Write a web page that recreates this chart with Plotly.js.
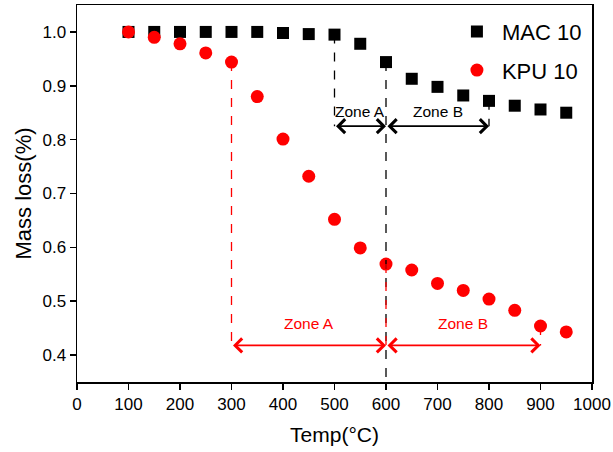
<!DOCTYPE html>
<html>
<head>
<meta charset="utf-8">
<script src="https://cdn.plot.ly/plotly-3.0.1.min.js"></script>
<style>html,body{margin:0;padding:0;background:#fff;}#chart{width:613px;height:452px;}</style>
</head>
<body>
<div id="chart"></div>
<script>
// Data
var temps = [100,150,200,250,300,350,400,450,500,550,600,650,700,750,800,850,900,950];
var mac10 = [1.0,1.0,1.0,1.0,1.0,1.0,0.998,0.996,0.995,0.978,0.944,0.913,0.898,0.882,0.872,0.863,0.856,0.850];
var kpu10 = [1.0,0.990,0.978,0.961,0.944,0.880,0.801,0.732,0.652,0.599,0.569,0.558,0.533,0.520,0.504,0.483,0.454,0.443];
var xTicks = [0,100,200,300,400,500,600,700,800,900,1000];
var yTicks = [0.4,0.5,0.6,0.7,0.8,0.9,1.0];
// Zone boundaries (temperature) and the level of their arrows
var macZones = [500,600,800];
var kpuZones = [300,600,900];
var macArrowLevel = 0.825;
var kpuArrowLevel = 0.418;
var macZoneLabelLevel = 0.853;
var kpuZoneLabelLevel = 0.459;
var zoneNames = ['Zone A','Zone B'];
var yMin = 0.35, yMax = 1.05;

function valAt(series, t){ return series[temps.indexOf(t)]; }

var FONT = 'Arial, "Liberation Sans", sans-serif';

var traces = [
  {x: temps, y: mac10, name: 'MAC 10', type: 'scatter', mode: 'markers',
   legendgroup: 'a',
   marker: {symbol: 'square', size: 12, color: '#000000'}},
  {x: temps, y: kpu10, name: 'KPU 10', type: 'scatter', mode: 'markers',
   legendgroup: 'b',
   marker: {symbol: 'circle', size: 13, color: '#ff0000'}}
];

var shapes = [];
var annotations = [];

function addZones(zones, series, level, labelLevel, color, fullLineAt){
  zones.forEach(function(z){
    var top = valAt(series, z);
    var bottom = (z === fullLineAt) ? yMin : level;
    shapes.push({type:'line', xref:'x', yref:'y', x0:z, x1:z, y0:top, y1:bottom,
                 line:{color:color, width:1.3, dash:'dash'}});
  });
  for (var i = 0; i < zones.length - 1; i++){
    annotations.push({x: zones[i+1], y: level, ax: zones[i], ay: level,
      xref:'x', yref:'y', axref:'x', ayref:'y', text:'', showarrow:true,
      arrowside:'end+start', arrowhead:4, startarrowhead:4,
      arrowsize:1.5, startarrowsize:1.5, arrowwidth:1.8, arrowcolor:color,
      standoff:0, startstandoff:0});
    annotations.push({x: (zones[i]+zones[i+1])/2, y: labelLevel, xref:'x', yref:'y',
      text: zoneNames[i], showarrow:false,
      font:{family:FONT, size:15.5, color:color}});
  }
}
addZones(macZones, mac10, macArrowLevel, macZoneLabelLevel, '#000000', 600);
addZones(kpuZones, kpu10, kpuArrowLevel, kpuZoneLabelLevel, '#ff0000', null);

var layout = {
  width: 613, height: 452,
  margin: {l: 77, r: 21, t: 5, b: 70},
  paper_bgcolor: '#ffffff', plot_bgcolor: '#ffffff',
  font: {family: FONT, color: '#000000'},
  showlegend: true,
  legend: {x: 0.728, y: 0.985, xanchor: 'left', yanchor: 'top',
           font: {family: FONT, size: 22, color: '#000'}, itemwidth: 40,
           bgcolor: 'rgba(0,0,0,0)', tracegroupgap: 7},
  xaxis: {range: [0, 1000], tickvals: xTicks, ticktext: xTicks.map(String),
          showgrid: false, zeroline: false, showline: true, mirror: true,
          linecolor: '#000', linewidth: 1.5, ticks: 'outside', ticklen: 6,
          tickwidth: 1.5, tickcolor: '#000',
          tickfont: {family: FONT, size: 17, color: '#000'},
          title: {text: 'Temp(°C)', font: {family: FONT, size: 21, color: '#000'}, standoff: 14}},
  yaxis: {range: [yMin, yMax], tickvals: yTicks, tickformat: '.1f',
          showgrid: false, zeroline: false, showline: true, mirror: true,
          linecolor: '#000', linewidth: 1.5, ticks: 'outside', ticklen: 6,
          tickwidth: 1.5, tickcolor: '#000',
          tickfont: {family: FONT, size: 17, color: '#000'},
          title: {text: 'Mass loss(%)', font: {family: FONT, size: 22, color: '#000'}, standoff: 5}},
  shapes: shapes,
  annotations: annotations
};

Plotly.newPlot('chart', traces, layout, {displayModeBar: false, staticPlot: true});
</script>
</body>
</html>
